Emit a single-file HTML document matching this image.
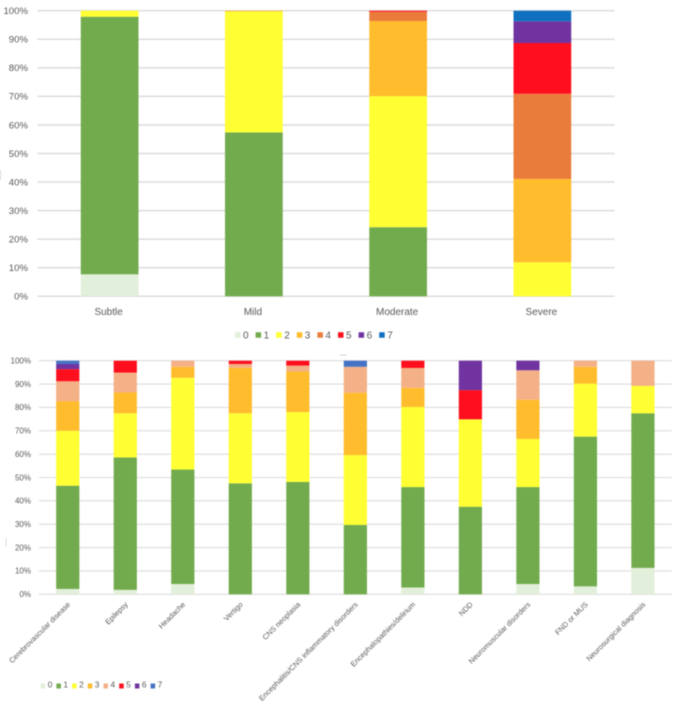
<!DOCTYPE html>
<html lang="en">
<head>
<meta charset="utf-8">
<title>Stacked percentage charts</title>
<style>
html,body{margin:0;padding:0;background:#fff;width:678px;height:702px;overflow:hidden}
svg{display:block}
#top-chart{filter:blur(0.4px)}
#bottom-chart{filter:blur(0.5px)}
text{font-family:"Liberation Sans",sans-serif;fill:#595959}
</style>
</head>
<body>
<svg id="root" xmlns="http://www.w3.org/2000/svg" width="678" height="702" viewBox="0 0 678 702">
  <g id="top-chart"></g>
  <g id="bottom-chart"></g>
  <path d="M340 355H347" stroke="#d4d4d4" stroke-width="1"/>
  <path d="M6 538V547" stroke="#e2e2e2" stroke-width="1"/>
  <path d="M0 170Q2 175 0 180" stroke="#dddddd" fill="none" stroke-width="1"/>
</svg>
<script>
const seriesNames = ["0","1","2","3","4","5","6","7"];
const tickLabels = ["0%","10%","20%","30%","40%","50%","60%","70%","80%","90%","100%"];
const tickValues = [0,10,20,30,40,50,60,70,80,90,100];

const topCategories = ["Subtle","Mild","Moderate","Severe"];
const topS0 = [7.7,0,0,0];
const topS1 = [90.2,57.4,24.2,0];
const topS2 = [2.1,42.3,45.9,11.9];
const topS3 = [0,0.3,26.3,29.2];
const topS4 = [0,0,3.2,29.8];
const topS5 = [0,0,0.4,17.8];
const topS6 = [0,0,0,7.6];
const topS7 = [0,0,0,3.7];

const botCategories = ["Cerebrovascular disease","Epilepsy","Headache","Vertigo","CNS neoplasia","Encephalitis/CNS inflammatory disorders","Encephalopathies/delirium","NDD","Neuromuscular disorders","FND or MUS","Neurosurgical diagnosis"];
const botS0 = [2.3,1.9,4.4,0,0,0,2.9,0,4.4,3.4,11.3];
const botS1 = [44.2,56.7,49,47.5,48.1,29.7,43,37.5,41.5,64.1,66.2];
const botS2 = [23.5,18.9,39.3,30,29.9,29.9,34.3,37.4,20.6,22.7,11.7];
const botS3 = [12.7,8.9,4.7,19.5,17.4,26.7,8.2,0,16.8,7.2,0];
const botS4 = [8.5,8.5,2.6,1.6,2.5,11.1,8.5,0,12.6,2.6,10.8];
const botS5 = [5.2,5.1,0,1.4,2.1,0,3.1,12.5,0,0,0];
const botS6 = [2.2,0,0,0,0,0,0,12.6,4.1,0,0];
const botS7 = [1.4,0,0,0,0,2.6,0,0,0,0,0];

const topColors = ["#e2efda","#72ab4d","#ffff33","#ffbc2c","#ea7c3b","#ff0f1e","#7033a0","#0f70c0"];
const botColors = ["#e2efda","#72ab4d","#ffff33","#ffbc2c","#f4b086","#ff0f1e","#7033a0","#4472c4"];

const NS = "http://www.w3.org/2000/svg";
function make(parent, tag, attrs, txt){
  const el = document.createElementNS(NS, tag);
  for (const k in attrs) el.setAttribute(k, attrs[k]);
  if (txt !== undefined) el.textContent = txt;
  parent.appendChild(el);
  return el;
}

function drawChart(root, cfg){
  const n = cfg.categories.length;
  const band = (cfg.x1 - cfg.x0) / n;
  const xCenter = i => cfg.x0 + band * (i + 0.5);
  const yScale = v => cfg.y0 - (v / 100) * (cfg.y0 - cfg.y1);

  tickValues.forEach((t, i) => {
    const line = make(root, "line", {x1: cfg.x0, x2: cfg.x1, y1: yScale(t), y2: yScale(t), stroke: "#dcdcdc", "stroke-width": cfg.gridWidth});
    
    
    const lab = make(root, "text", {x: cfg.x0 - cfg.tickGap, y: yScale(t) + cfg.tickSize * 0.35, "text-anchor": "end", "font-size": cfg.tickSize}, tickLabels[i]);
    
    
  });

  cfg.categories.forEach((cat, i) => {
    const total = cfg.series.reduce((a, s) => a + s[i], 0) || 1;
    let acc = 0;
    cfg.series.forEach((s, k) => {
      const v = s[i] / total * 100;
      if (v > 0) {
        const yTop = yScale(acc + v);
        const yBot = yScale(acc);
        const r = make(root, "rect", {x: xCenter(i) - cfg.barWidth / 2, y: yTop, width: cfg.barWidth, height: yBot - yTop, fill: cfg.colors[k]});
        
        
      }
      acc += v;
    });
    let lab;
    if (cfg.rotate) {
      const lx = xCenter(i) + 3;
      const ly = cfg.labelY;
      lab = make(root, "text", {x: lx, y: ly, "text-anchor": "end", "font-size": cfg.catSize, transform: "rotate(-45 " + lx + " " + ly + ")"}, cat);
    } else {
      lab = make(root, "text", {x: xCenter(i) - 1, y: cfg.labelY, "text-anchor": "middle", "font-size": cfg.catSize}, cat);
    }
    
    
  });

  seriesNames.forEach((name, k) => {
    const sx = cfg.legendX + cfg.legendStep * k;
    const sw = make(root, "rect", {x: sx, y: cfg.legendY - cfg.swatchH / 2, width: cfg.swatchW, height: cfg.swatchH, fill: cfg.colors[k]});
    
    
    const tx = make(root, "text", {x: sx + cfg.swatchW + 2.5, y: cfg.legendY + cfg.legendSize * 0.35 + cfg.legendTextDy, "font-size": cfg.legendSize}, name);
    
    
  });
}

drawChart(document.getElementById("top-chart"), {
  categories: topCategories,
  series: [topS0, topS1, topS2, topS3, topS4, topS5, topS6, topS7],
  colors: topColors,
  x0: 37.5, x1: 614.5, y0: 296.3, y1: 10.7,
  barWidth: 57.7, gridWidth: 1.5, tickSize: 9.6, tickGap: 9.5,
  catSize: 10, labelY: 315, rotate: false,
  legendX: 235, legendStep: 20.6, legendY: 335, swatchW: 5.5, swatchH: 5.5, legendSize: 10, legendTextDy: 0
});
drawChart(document.getElementById("bottom-chart"), {
  categories: botCategories,
  series: [botS0, botS1, botS2, botS3, botS4, botS5, botS6, botS7],
  colors: botColors,
  x0: 39, x1: 671.7, y0: 594.3, y1: 360.7,
  barWidth: 23.2, gridWidth: 1.1, tickSize: 8, tickGap: 8,
  catSize: 7.5, labelY: 605, rotate: true,
  legendX: 40.7, legendStep: 15.7, legendY: 686, swatchW: 4.5, swatchH: 5, legendSize: 8.3, legendTextDy: -1.5
});
</script>
</body>
</html>
